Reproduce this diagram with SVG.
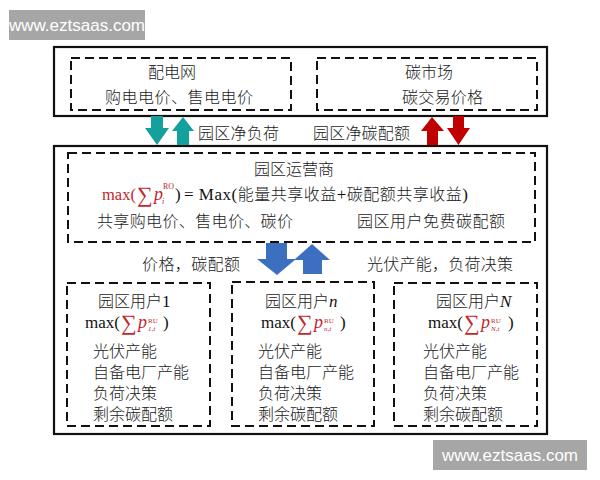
<svg xmlns="http://www.w3.org/2000/svg" width="600" height="480" viewBox="0 0 600 480">
<defs>
<style>
.solid{fill:none;stroke:#111;stroke-width:2.2}
.dash{fill:none;stroke:#111;stroke-width:2;stroke-dasharray:9 5}
.cn{font-family:"Liberation Serif","Noto Sans CJK SC",serif;font-size:16px;fill:#1a1a1a;font-weight:300}
.mt{font-family:"Liberation Serif",serif;fill:#111}
.red{fill:#c0282d}
.wm{fill:#a6a6a6}
.wmt{font-family:"Liberation Sans",Arial,sans-serif;font-size:17px;fill:#fff;text-anchor:middle}
.teal{fill:#14a09c}
.crim{fill:#c00000}
.blue{fill:#3d6fc0}
</style>
</defs>
<rect width="600" height="480" fill="#fff"/>

<g id="watermark-top"><rect class="wm" x="9" y="10" width="136" height="30"/><text class="wmt" x="77" y="31">www.eztsaas.com</text></g>
<g id="watermark-bottom"><rect class="wm" x="433" y="440" width="154" height="30"/><text class="wmt" x="510" y="461">www.eztsaas.com</text></g>

<g id="top-frame"><rect class="solid" x="54" y="47" width="493" height="69"/></g>
<g id="grid">
<rect class="dash" x="71" y="58" width="220" height="52"/>
<text class="cn" x="172" y="78" text-anchor="middle">配电网</text>
<text class="cn" x="105" y="103" textLength="148" lengthAdjust="spacing">购电电价、售电电价</text>
</g>
<g id="carbon-market">
<rect class="dash" x="317" y="58" width="220" height="52"/>
<text class="cn" x="429" y="78" text-anchor="middle">碳市场</text>
<text class="cn" x="402" y="103" textLength="81" lengthAdjust="spacing">碳交易价格</text>
</g>

<g id="main-frame"><rect class="solid" x="54" y="146" width="493" height="288"/></g>

<g id="operator">
<rect class="dash" x="68" y="153" width="467" height="89"/>
<text class="cn" x="294" y="175" text-anchor="middle">园区运营商</text>
<text class="mt red" x="102" y="200" font-size="16.5">max(</text>
<text class="mt red" x="137" y="202" font-size="22">∑</text>
<text class="mt red" x="154" y="200" font-size="18" font-style="italic">p</text>
<text class="mt red" x="162" y="204" font-size="8" font-style="italic">i</text>
<text class="mt red" x="163" y="189" font-size="8">RO</text>
<text class="mt" x="175" y="200" font-size="17">)</text>
<text class="mt" x="184" y="200" font-size="17" textLength="284" lengthAdjust="spacing">= Max(<tspan class="cn" font-size="16">能量共享收益</tspan>+<tspan class="cn" font-size="16">碳配额共享收益</tspan>)</text>
<text class="cn" x="97" y="227" textLength="196" lengthAdjust="spacing">共享购电价、售电价、碳价</text>
<text class="cn" x="357" y="227" textLength="148" lengthAdjust="spacing">园区用户免费碳配额</text>
</g>

<g id="user-1">
<rect class="dash" x="67" y="283" width="143" height="143"/>
<text class="cn" x="98" y="307">园区用户<tspan class="mt" font-size="17">1</tspan></text>
<text class="mt" x="85" y="328" font-size="17">max(</text>
<text class="mt red" x="121" y="330" font-size="22">∑</text>
<text class="mt red" x="138" y="328" font-size="18" font-style="italic">p</text>
<text class="mt red" x="148" y="323" font-size="7">RU</text>
<text class="mt red" x="148" y="331" font-size="7" font-style="italic">1,t</text>
<text class="mt" x="163" y="328" font-size="17">)</text>
<text class="cn" x="93" y="357">光伏产能</text>
<text class="cn" x="93" y="378">自备电厂产能</text>
<text class="cn" x="93" y="399">负荷决策</text>
<text class="cn" x="93" y="420">剩余碳配额</text>
</g>

<g id="user-n">
<rect class="dash" x="232" y="282" width="142" height="144"/>
<text class="cn" x="265" y="307">园区用户<tspan class="mt" font-size="17" font-style="italic">n</tspan></text>
<text class="mt" x="261" y="328" font-size="17">max(</text>
<text class="mt red" x="297" y="330" font-size="22">∑</text>
<text class="mt red" x="314" y="328" font-size="18" font-style="italic">p</text>
<text class="mt red" x="324" y="323" font-size="7">RU</text>
<text class="mt red" x="324" y="331" font-size="7" font-style="italic">n,t</text>
<text class="mt" x="340" y="328" font-size="17">)</text>
<text class="cn" x="258" y="357">光伏产能</text>
<text class="cn" x="258" y="378">自备电厂产能</text>
<text class="cn" x="258" y="399">负荷决策</text>
<text class="cn" x="258" y="420">剩余碳配额</text>
</g>

<g id="user-N">
<rect class="dash" x="394" y="283" width="143" height="143"/>
<text class="cn" x="436" y="307">园区用户<tspan class="mt" font-size="17" font-style="italic">N</tspan></text>
<text class="mt" x="428" y="328" font-size="17">max(</text>
<text class="mt red" x="464" y="330" font-size="22">∑</text>
<text class="mt red" x="481" y="328" font-size="18" font-style="italic">p</text>
<text class="mt red" x="491" y="323" font-size="7">RU</text>
<text class="mt red" x="491" y="331" font-size="7" font-style="italic">N,t</text>
<text class="mt" x="508" y="328" font-size="17">)</text>
<text class="cn" x="423" y="357">光伏产能</text>
<text class="cn" x="423" y="378">自备电厂产能</text>
<text class="cn" x="423" y="399">负荷决策</text>
<text class="cn" x="423" y="420">剩余碳配额</text>
</g>

<g id="connectors">
<path class="teal" d="M151,116 H163 V128 H169 L157,145 L145,128 H151 Z"/>
<path class="teal" d="M183,117 L194,131 H189 V145 H177 V131 H172 Z"/>
<text class="cn" x="198" y="139" textLength="81" lengthAdjust="spacing">园区净负荷</text>
<text class="cn" x="313" y="139" textLength="97" lengthAdjust="spacing">园区净碳配额</text>
<path class="crim" d="M432,117 L444,131 H438 V145 H427 V131 H421 Z"/>
<path class="crim" d="M453,116 H464 V128 H470 L458.5,145 L447,128 H453 Z"/>
<path class="blue" d="M266,243 H287 V259 H296 L277,275 L257,259 H266 Z"/>
<path class="blue" d="M312,244 L330,260 H322 V274 H303 V260 H294 Z"/>
<text class="cn" x="142" y="270" textLength="98" lengthAdjust="spacing">价格，碳配额</text>
<text class="cn" x="367" y="270" textLength="146" lengthAdjust="spacing">光伏产能，负荷决策</text>
</g>
</svg>
